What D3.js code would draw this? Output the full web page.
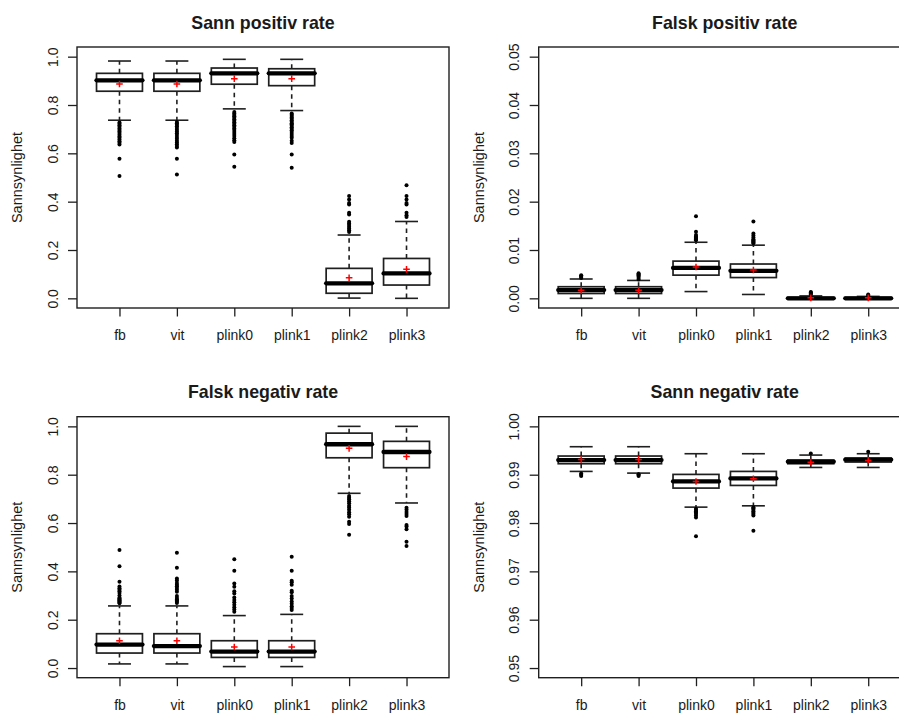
<!DOCTYPE html>
<html>
<head>
<meta charset="utf-8">
<script src="https://cdn.jsdelivr.net/npm/d3@7"></script>
<style>
  body { margin: 0; background: #fff; }
  svg { display: block; }
  text { font-family: "Liberation Sans", Arial, sans-serif; fill: #1a1a1a; }
</style>
</head>
<body>
<svg id="chart" width="899" height="715"></svg>
<script>
// Methods compared
const categories = ["fb", "vit", "plink0", "plink1", "plink2", "plink3"];

// Box summaries per method: [lower whisker, Q1, median, Q3, upper whisker]
const tprStats = [
  [0.737, 0.857, 0.902, 0.931, 0.982],
  [0.737, 0.857, 0.902, 0.931, 0.982],
  [0.784, 0.886, 0.931, 0.953, 0.989],
  [0.777, 0.880, 0.931, 0.950, 0.989],
  [0.001, 0.021, 0.062, 0.124, 0.262],
  [0.000, 0.055, 0.103, 0.165, 0.318]
];
const tprMeans = [0.887, 0.887, 0.909, 0.909, 0.085, 0.120];
const tprOutliers = [
  [0.728, 0.722, 0.716, 0.710, 0.703, 0.697, 0.690, 0.684, 0.677, 0.670, 0.664, 0.657, 0.650, 0.644, 0.637, 0.578, 0.506],
  [0.730, 0.724, 0.718, 0.712, 0.705, 0.698, 0.690, 0.683, 0.676, 0.668, 0.660, 0.652, 0.645, 0.638, 0.630, 0.624, 0.578, 0.512],
  [0.771, 0.765, 0.759, 0.753, 0.747, 0.741, 0.735, 0.729, 0.722, 0.716, 0.710, 0.703, 0.697, 0.688, 0.680, 0.672, 0.662, 0.654, 0.647, 0.595, 0.545],
  [0.765, 0.760, 0.754, 0.748, 0.743, 0.737, 0.731, 0.725, 0.720, 0.714, 0.708, 0.702, 0.696, 0.688, 0.680, 0.672, 0.664, 0.652, 0.643, 0.595, 0.540],
  [0.275, 0.282, 0.289, 0.296, 0.303, 0.310, 0.317, 0.347, 0.354, 0.388, 0.395, 0.409, 0.423],
  [0.337, 0.344, 0.354, 0.388, 0.395, 0.409, 0.423, 0.468]
];
const tprTicks = [0.0, 0.2, 0.4, 0.6, 0.8, 1.0];

const fprStats = [
  [0.0000, 0.0010, 0.0017, 0.0024, 0.0040],
  [0.0000, 0.0010, 0.0017, 0.0024, 0.0037],
  [0.0014, 0.0048, 0.0063, 0.0077, 0.0116],
  [0.0008, 0.0043, 0.0057, 0.0071, 0.0110],
  [0.0000, 0.0000, 0.0000, 0.0002, 0.0005],
  [0.0000, 0.0000, 0.0000, 0.0002, 0.0004]
];
const fprMeans = [0.00165, 0.00165, 0.00647, 0.00585, 0.0001, 0.0001];
const fprOutliers = [
  [0.0042, 0.0044, 0.0046, 0.0048],
  [0.0039, 0.0042, 0.0045, 0.0048, 0.0050, 0.0052],
  [0.0120, 0.0122, 0.0124, 0.0126, 0.0128, 0.0131, 0.0138, 0.0170],
  [0.0114, 0.0116, 0.0118, 0.0120, 0.0122, 0.0126, 0.0130, 0.0134, 0.0159],
  [0.0008, 0.0010, 0.0012, 0.0013],
  [0.0006, 0.0008]
];
const fprTicks = [0.00, 0.01, 0.02, 0.03, 0.04, 0.05];

const fnrStats = [
  [0.017, 0.062, 0.097, 0.142, 0.257],
  [0.017, 0.062, 0.091, 0.142, 0.257],
  [0.006, 0.044, 0.068, 0.113, 0.217],
  [0.006, 0.044, 0.068, 0.113, 0.222],
  [0.723, 0.870, 0.926, 0.972, 1.000],
  [0.683, 0.829, 0.894, 0.938, 1.000]
];
const fnrMeans = [0.113, 0.113, 0.087, 0.087, 0.909, 0.875];
const fnrOutliers = [
  [0.268, 0.272, 0.276, 0.280, 0.284, 0.288, 0.291, 0.300, 0.310, 0.318, 0.324, 0.330, 0.337, 0.357, 0.421, 0.488],
  [0.269, 0.274, 0.279, 0.284, 0.290, 0.298, 0.316, 0.324, 0.331, 0.338, 0.345, 0.352, 0.362, 0.371, 0.415, 0.477],
  [0.233, 0.242, 0.252, 0.262, 0.272, 0.282, 0.292, 0.308, 0.318, 0.336, 0.350, 0.403, 0.450],
  [0.240, 0.248, 0.256, 0.266, 0.275, 0.288, 0.298, 0.314, 0.320, 0.345, 0.355, 0.361, 0.403, 0.460],
  [0.712, 0.705, 0.698, 0.690, 0.682, 0.672, 0.664, 0.655, 0.645, 0.636, 0.626, 0.605, 0.596, 0.552],
  [0.663, 0.655, 0.646, 0.637, 0.629, 0.592, 0.586, 0.574, 0.523, 0.505]
];
const fnrTicks = [0.0, 0.2, 0.4, 0.6, 0.8, 1.0];

const tnrStats = [
  [0.99068, 0.99227, 0.99303, 0.99386, 0.99579],
  [0.99033, 0.99227, 0.99303, 0.99386, 0.99579],
  [0.98329, 0.98723, 0.98861, 0.99006, 0.99434],
  [0.98356, 0.98778, 0.98923, 0.99068, 0.99434],
  [0.99150, 0.99227, 0.99268, 0.99302, 0.99406],
  [0.99150, 0.99262, 0.99310, 0.99344, 0.99434]
];
const tnrMeans = [0.99317, 0.99317, 0.98860, 0.98916, 0.99260, 0.99296];
const tnrOutliers = [
  [0.99026, 0.99000, 0.98971],
  [0.99010, 0.98995, 0.98975],
  [0.98294, 0.98268, 0.98243, 0.98220, 0.98190, 0.98155, 0.98115, 0.97728],
  [0.98329, 0.98305, 0.98275, 0.98245, 0.98215, 0.98185, 0.98156, 0.97838],
  [0.99441],
  [0.99475]
];
const tnrTicks = [0.95, 0.96, 0.97, 0.98, 0.99, 1.00];

const yTitle = "Sannsynlighet";

// Panel layout (plot regions of a 2 x 2 grid)
const panels = [
  { title: "Sann positiv rate",  stats: tprStats, means: tprMeans, outliers: tprOutliers, ylim: [0, 1],       ticks: tprTicks, fmt: ".1f", left: 77,    top: 47 },
  { title: "Falsk positiv rate", stats: fprStats, means: fprMeans, outliers: fprOutliers, ylim: [0, 0.05],    ticks: fprTicks, fmt: ".2f", left: 538.7, top: 47 },
  { title: "Falsk negativ rate", stats: fnrStats, means: fnrMeans, outliers: fnrOutliers, ylim: [0, 1],       ticks: fnrTicks, fmt: ".1f", left: 77,    top: 416.7 },
  { title: "Sann negativ rate",  stats: tnrStats, means: tnrMeans, outliers: tnrOutliers, ylim: [0.95, 1.0],  ticks: tnrTicks, fmt: ".2f", left: 538.7, top: 416.7 }
];

const W = 372, H = 261;
const ink = "#1f1f1f";
const svg = d3.select("#chart");

panels.forEach(p => {
  const g = svg.append("g");
  const pad = 0.04 * (p.ylim[1] - p.ylim[0]);
  const y = d3.scaleLinear().domain([p.ylim[0] - pad, p.ylim[1] + pad]).range([p.top + H, p.top]);
  const n = categories.length;
  const x = d3.scaleLinear().domain([0.5 - 0.24, n + 0.5 + 0.24]).range([p.left, p.left + W]);
  const bw = x(1.4) - x(1);      // half box width
  const sw = x(1.2) - x(1);      // half staple width

  // y axis
  const ya = g.append("g").attr("transform", `translate(${p.left},0)`)
    .call(d3.axisLeft(y).tickValues(p.ticks).tickSize(9).tickFormat(d3.format(p.fmt)));
  ya.select(".domain").remove();
  ya.selectAll("line").attr("stroke", ink).attr("stroke-width", 1.3);
  ya.selectAll("text")
    .attr("x", null).attr("dy", null)
    .attr("transform", "translate(-19.5,0) rotate(-90)")
    .attr("text-anchor", "middle")
    .style("font-size", "14px").attr("fill", ink);

  // x axis
  const xa = g.append("g").attr("transform", `translate(0,${p.top + H})`)
    .call(d3.axisBottom(x).tickValues(d3.range(1, n + 1)).tickSize(8.5).tickFormat(i => categories[i - 1]));
  xa.select(".domain").remove();
  xa.selectAll("line").attr("stroke", ink).attr("stroke-width", 1.3);
  xa.selectAll("text")
    .attr("y", 32.3).attr("dy", null)
    .style("font-size", "14px").attr("fill", ink);

  // plot frame
  g.append("rect")
    .attr("x", p.left).attr("y", p.top).attr("width", W).attr("height", H)
    .attr("fill", "none").attr("stroke", ink).attr("stroke-width", 1.4);

  // titles
  g.append("text")
    .attr("x", p.left + W / 2).attr("y", p.top - 18.5)
    .attr("text-anchor", "middle")
    .style("font-size", "17.8px").style("font-weight", "bold")
    .attr("fill", "#111")
    .text(p.title);

  g.append("text")
    .attr("transform", `translate(${p.left - 55},${p.top + H / 2}) rotate(-90)`)
    .attr("text-anchor", "middle")
    .style("font-size", "14.5px").attr("fill", ink)
    .text(yTitle);

  // boxes
  const boxes = g.selectAll("g.box").data(p.stats).join("g").attr("class", "box");
  boxes.each(function (s, i) {
    const b = d3.select(this);
    const cx = x(i + 1);
    const [lo, q1, med, q3, hi] = s;
    // whiskers
    b.append("line").attr("x1", cx).attr("x2", cx).attr("y1", y(q3)).attr("y2", y(hi))
      .attr("stroke", ink).attr("stroke-width", 1.6).attr("stroke-dasharray", "4.5 4");
    b.append("line").attr("x1", cx).attr("x2", cx).attr("y1", y(q1)).attr("y2", y(lo))
      .attr("stroke", ink).attr("stroke-width", 1.6).attr("stroke-dasharray", "4.5 4");
    // staples
    [lo, hi].forEach(v => {
      b.append("line").attr("x1", cx - sw).attr("x2", cx + sw).attr("y1", y(v)).attr("y2", y(v))
        .attr("stroke", ink).attr("stroke-width", 1.6);
    });
    // box
    b.append("rect")
      .attr("x", cx - bw).attr("width", 2 * bw)
      .attr("y", y(q3)).attr("height", Math.max(0, y(q1) - y(q3)))
      .attr("fill", "#fff").attr("stroke", ink).attr("stroke-width", 1.7);
    // median
    b.append("line").attr("x1", cx - bw).attr("x2", cx + bw).attr("y1", y(med)).attr("y2", y(med))
      .attr("stroke", "#000").attr("stroke-width", 4.3).attr("stroke-linecap", "round");
    // outliers
    b.selectAll("circle").data(p.outliers[i]).join("circle")
      .attr("cx", cx).attr("cy", d => y(d)).attr("r", 2).attr("fill", "#000");
    // mean marker
    const my = y(p.means[i]);
    b.append("path")
      .attr("d", `M${cx - 3.3},${my}H${cx + 3.3}M${cx},${my - 3.3}V${my + 3.3}`)
      .attr("stroke", "#ff0000").attr("stroke-width", 1.5);
  });
});
</script>
</body>
</html>
